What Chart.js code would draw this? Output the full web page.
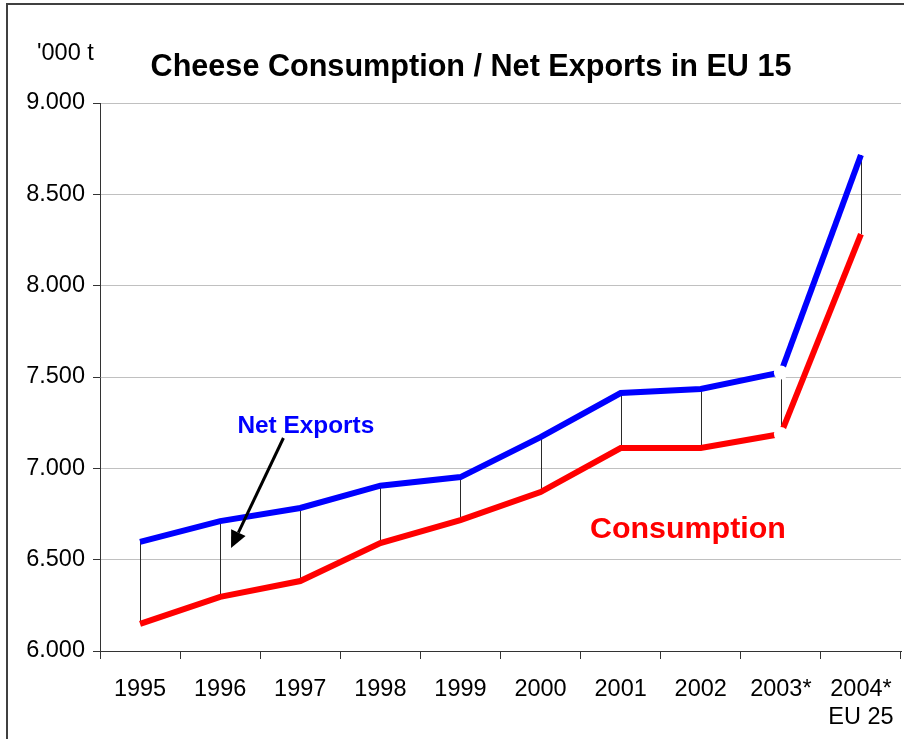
<!DOCTYPE html>
<html>
<head>
<meta charset="utf-8">
<script src="https://cdn.jsdelivr.net/npm/chart.js@4.4.1/dist/chart.umd.min.js"></script>
<style>
  html, body { margin: 0; padding: 0; background: #fff; overflow: hidden; }
  #wrap { position: relative; width: 904px; height: 739px; }
  #frame {
    position: absolute; left: 6px; top: 3px;
    width: 1000px; height: 1000px;
    border: 2px solid #404040;
  }
  #chart { position: absolute; left: 0; top: 0; }
</style>
</head>
<body>
<div id="wrap">
  <div id="frame"></div>
  <canvas id="chart" width="904" height="739"></canvas>
</div>
<script>
// '000 t, EU 15 up to 2003, EU 25 from 2004
const years = ['1995', '1996', '1997', '1998', '1999', '2000', '2001', '2002', '2003*', ['2004*', 'EU 25']]
const netExports = [6597, 6711, 6783, 6905, 6952, 7171, 7412, 7434, 7525, 8715]
const consumption = [6148, 6296, 6383, 6591, 6717, 6870, 7111, 7111, 7188, 8282]
const breakIndex = 8   // where EU 15 turns into EU 25
const yTicks = [6000, 6500, 7000, 7500, 8000, 8500, 9000]

const FONT = '"Liberation Sans", Arial, sans-serif'
const BLUE = '#0000ff'
const RED = '#ff0000'

const before = arr => arr.map((v, i) => (i <= breakIndex ? v : null))
const after = arr => arr.map((v, i) => (i >= breakIndex ? v : null))

// white dot that cuts the lines at the EU 15 / EU 25 break
const breakDot = {
  pointRadius: ctx => (ctx.dataIndex === breakIndex ? 7 : 0),
  pointBackgroundColor: '#fff',
  pointBorderWidth: 0
}

const fmt = v => String(v).replace(/\B(?=(\d{3})+(?!\d))/g, '.')

// thin vertical lines between the two series
const dropLines = {
  id: 'dropLines',
  beforeDatasetsDraw(chart) {
    const { ctx, scales: { x, y } } = chart
    ctx.save()
    ctx.strokeStyle = '#2a2a2a'
    ctx.lineWidth = 1
    netExports.forEach((v, i) => {
      const px = Math.round(x.getPixelForValue(i)) + 0.5
      ctx.beginPath()
      ctx.moveTo(px, y.getPixelForValue(v))
      ctx.lineTo(px, y.getPixelForValue(consumption[i]))
      ctx.stroke()
    })
    ctx.restore()
  }
}

// title, unit and the two series labels
const annotations = {
  id: 'annotations',
  afterDraw(chart) {
    const { ctx, scales: { x, y } } = chart
    ctx.save()
    ctx.textBaseline = 'alphabetic'

    ctx.fillStyle = '#000'
    ctx.font = 'bold 30.6px ' + FONT
    ctx.textAlign = 'center'
    ctx.fillText('Cheese Consumption / Net Exports in EU 15', 471, 76)

    ctx.font = '23.5px ' + FONT
    ctx.textAlign = 'left'
    ctx.fillText("'000 t", 37, 60)

    ctx.textAlign = 'center'
    ctx.fillStyle = BLUE
    ctx.font = 'bold 24.4px ' + FONT
    ctx.fillText('Net Exports', x.getPixelForValue(2.07), y.getPixelForValue(7193))

    ctx.fillStyle = RED
    ctx.font = 'bold 30.4px ' + FONT
    ctx.fillText('Consumption', x.getPixelForValue(6.84), y.getPixelForValue(6619))

    // arrow from the label down into the gap
    const x0 = x.getPixelForValue(1.79), y0 = y.getPixelForValue(7166)
    const x1 = x.getPixelForValue(1.136), y1 = y.getPixelForValue(6564)
    const ang = Math.atan2(y1 - y0, x1 - x0)
    const head = 17, half = 8
    const bx = x1 - head * Math.cos(ang), by = y1 - head * Math.sin(ang)
    ctx.strokeStyle = '#000'
    ctx.fillStyle = '#000'
    ctx.lineWidth = 3
    ctx.beginPath()
    ctx.moveTo(x0, y0)
    ctx.lineTo(bx, by)
    ctx.stroke()
    ctx.beginPath()
    ctx.moveTo(x1, y1)
    ctx.lineTo(bx + half * Math.sin(ang), by - half * Math.cos(ang))
    ctx.lineTo(bx - half * Math.sin(ang), by + half * Math.cos(ang))
    ctx.closePath()
    ctx.fill()

    ctx.restore()
  }
}

const lineStyle = color => ({
  borderColor: color,
  backgroundColor: color,
  borderWidth: 6,
  tension: 0,
  fill: false,
  spanGaps: false,
  borderCapStyle: 'butt'
})

new Chart(document.getElementById('chart'), {
  type: 'line',
  data: {
    labels: years,
    datasets: [
      { label: 'Net Exports EU 25', data: after(netExports), ...lineStyle(BLUE), ...breakDot },
      { label: 'Consumption EU 25', data: after(consumption), ...lineStyle(RED), ...breakDot },
      { label: 'Net Exports', data: before(netExports), ...lineStyle(BLUE), pointRadius: 0 },
      { label: 'Consumption', data: before(consumption), ...lineStyle(RED), pointRadius: 0 }
    ]
  },
  options: {
    responsive: false,
    animation: false,
    devicePixelRatio: 1,
    events: [],
    layout: { padding: { top: 103, right: 3, left: 0, bottom: 0 } },
    plugins: {
      legend: { display: false },
      tooltip: { enabled: false },
      title: { display: false }
    },
    scales: {
      x: {
        offset: true,
        grid: {
          offset: true,
          drawOnChartArea: false,
          tickLength: 8,
          color: '#333'
        },
        border: { color: '#333', width: 1 },
        ticks: {
          color: '#000',
          padding: 16,
          maxRotation: 0,
          autoSkip: false,
          font: { family: FONT, size: 23.5 }
        },
        afterFit: scale => {
          scale.height = 88
          // labels fit inside the canvas, no extra side padding needed
          scale.paddingLeft = 0
          scale.paddingRight = 0
        }
      },
      y: {
        min: yTicks[0],
        max: yTicks[yTicks.length - 1],
        afterBuildTicks: scale => { scale.ticks = yTicks.map(v => ({ value: v })) },
        grid: {
          color: '#c0c0c0',
          tickColor: '#333',
          tickLength: 7
        },
        border: { color: '#333', width: 1 },
        ticks: {
          color: '#000',
          padding: 8,
          font: { family: FONT, size: 23.5 },
          callback: v => fmt(v)
        },
        afterFit: scale => { scale.width = 100 }
      }
    }
  },
  plugins: [dropLines, annotations]
})
</script>
</body>
</html>
